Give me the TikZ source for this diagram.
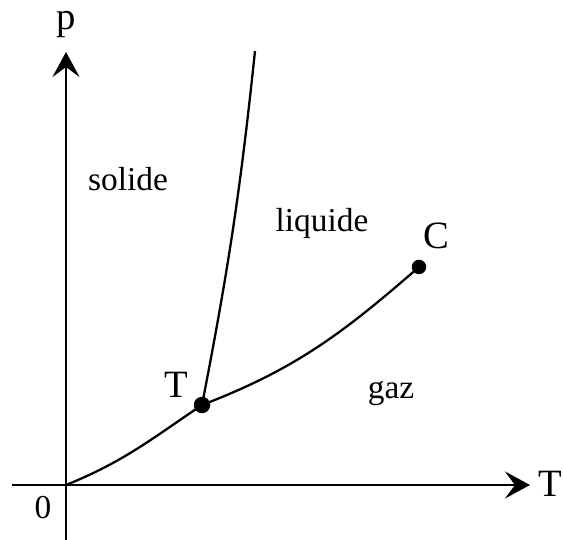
\documentclass[tikz,border=0pt]{standalone}
\usepackage{fontspec}
\setmainfont{Liberation Serif}
\usetikzlibrary{arrows.meta}
\begin{document}
\begin{tikzpicture}[every node/.style={font=\fontsize{19}{22}\selectfont},
  axis/.style={line width=1.6pt, -{Stealth[length=5mm, width=5.4mm, inset=2mm]}},
  curve/.style={line width=1.3pt},
  point/.style={circle, fill, inner sep=0pt, minimum size=#1}]
  \useasboundingbox (-1.32,-1.1) rectangle (9.94,9.7);

  % axes
  \coordinate (origin) at (0,0);
  \coordinate (xstart) at (-1.08,0);
  \coordinate (xend) at (9.28,0);
  \coordinate (ystart) at (0,-1.1);
  \coordinate (yend) at (0,8.66);
  \draw[axis] (xstart) -- (xend);
  \draw[axis] (ystart) -- (yend);
  \node[font=\fontsize{22}{24}\selectfont] (plabel) at (0,9.2) {p};
  \node[font=\fontsize{22}{24}\selectfont] (Tlabel) at (9.68,0.02) {T};
  \node (zero) at (-0.46,-0.46) {0};

  % triple and critical points
  \node[point=0.33cm] (triple) at (2.72,1.6) {};
  \node[point=0.29cm] (critical) at (7.06,4.36) {};
  \coordinate (melttop) at (3.78,8.68);

  % phase boundaries
  \draw[curve] (origin) to[out=22, in=214] (triple.center);
  \draw[curve] (triple.center) to[out=21, in=221] (critical.center);
  \draw[curve] (triple.center) to[out=79, in=264] (melttop);

  \node[font=\fontsize{22}{24}\selectfont] (tname) at (2.2,2.0) {T};
  \node[font=\fontsize{22}{24}\selectfont] (cname) at (7.4,4.98) {C};

  % regions
  \node (solid) at (1.24,6.12) {solide};
  \node (liquid) at (5.12,5.24) {liquide};
  \node (gas) at (6.5,1.82) {gaz};
\end{tikzpicture}
\end{document}
